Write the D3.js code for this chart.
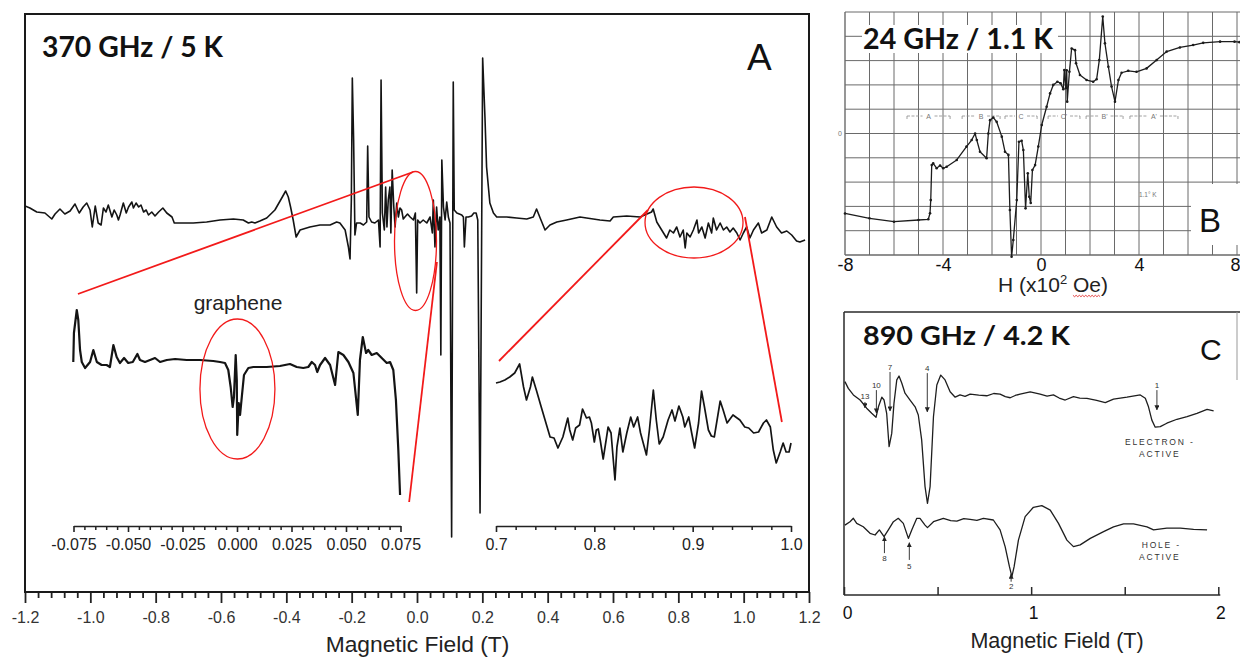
<!DOCTYPE html>
<html>
<head>
<meta charset="utf-8">
<script src="https://cdn.jsdelivr.net/npm/d3@7"></script>
<style>
  html, body { margin: 0; padding: 0; background: #fff; }
  svg { display: block; font-family: "Liberation Sans", Arial, sans-serif; }
</style>
</head>
<body>
<svg id="fig" width="1240" height="658"></svg>
<script>
// ---------------- data ----------------
// Panel A: 370 GHz / 5 K sweep, [field (T), signal (a.u.)]
const sweep370 = [
  [-1.200,0.04],[-1.185,0.02],[-1.164,-0.02],[-1.139,-0.03],[-1.118,-0.09],[-1.108,-0.04],[-1.093,0.01],
  [-1.078,-0.04],[-1.062,-0.01],[-1.047,0.06],[-1.034,-0.03],[-1.022,0.03],[-1.011,0.07],[-1.001,0.00],
  [-0.994,-0.17],[-0.985,0.04],[-0.976,-0.13],[-0.967,-0.15],[-0.960,0.02],[-0.952,-0.02],[-0.945,0.05],
  [-0.934,-0.07],[-0.927,0.00],[-0.919,-0.05],[-0.914,-0.10],[-0.909,-0.05],[-0.899,0.07],[-0.890,-0.03],
  [-0.883,0.03],[-0.873,0.08],[-0.868,0.02],[-0.860,0.07],[-0.852,0.03],[-0.845,0.05],[-0.837,-0.02],
  [-0.829,0.00],[-0.822,-0.05],[-0.812,-0.02],[-0.802,-0.06],[-0.791,-0.02],[-0.778,0.02],[-0.766,-0.03],
  [-0.750,-0.07],[-0.743,-0.13],[-0.725,-0.13],[-0.685,-0.13],[-0.644,-0.12],[-0.603,-0.10],[-0.562,-0.09],
  [-0.532,-0.10],[-0.516,-0.13],[-0.506,-0.12],[-0.496,-0.13],[-0.481,-0.11],[-0.460,-0.08],[-0.435,0.00],
  [-0.414,0.12],[-0.402,0.19],[-0.394,0.13],[-0.387,0.03],[-0.379,-0.10],[-0.370,-0.27],[-0.358,-0.20],
  [-0.328,-0.17],[-0.297,-0.15],[-0.266,-0.15],[-0.246,-0.12],[-0.236,-0.13],[-0.220,-0.20],[-0.210,-0.37],
  [-0.205,-0.49],[-0.201,0.10],[-0.198,1.32],[-0.194,0.70],[-0.190,-0.25],[-0.185,-0.13],[-0.174,-0.13],
  [-0.164,-0.15],[-0.154,-0.12],[-0.151,0.64],[-0.147,-0.07],[-0.139,-0.12],[-0.129,-0.13],[-0.118,-0.10],
  [-0.113,-0.37],[-0.110,1.30],[-0.106,-0.03],[-0.100,-0.20],[-0.096,0.23],[-0.092,-0.17],[-0.088,0.10],
  [-0.083,0.23],[-0.080,-0.23],[-0.076,0.40],[-0.071,0.03],[-0.067,-0.17],[-0.062,0.07],[-0.057,-0.07],
  [-0.052,0.02],[-0.047,0.00],[-0.042,-0.09],[-0.037,-0.07],[-0.029,-0.04],[-0.021,-0.07],[-0.011,-0.10],
  [-0.005,-0.03],[-0.001,-0.83],[0.002,-0.10],[0.009,-0.13],[0.019,-0.10],[0.030,-0.13],[0.040,-0.07],
  [0.047,-0.23],[0.050,0.10],[0.055,-0.37],[0.060,0.03],[0.065,-0.20],[0.070,-0.07],[0.073,-1.45],
  [0.076,0.50],[0.081,0.03],[0.086,-0.10],[0.091,0.08],[0.096,-0.07],[0.101,-0.13],[0.106,-3.27],
  [0.111,1.28],[0.114,0.00],[0.122,-0.03],[0.137,-0.05],[0.142,-0.07],[0.145,-0.37],[0.150,-0.07],
  [0.157,-0.07],[0.167,-0.06],[0.174,-0.03],[0.181,-0.03],[0.186,-0.10],[0.193,-3.03],[0.201,1.52],
  [0.208,0.93],[0.213,0.43],[0.223,0.07],[0.234,-0.03],[0.244,-0.07],[0.275,-0.07],[0.305,-0.08],
  [0.336,-0.09],[0.356,-0.07],[0.366,0.01],[0.377,-0.08],[0.392,-0.20],[0.407,-0.15],[0.428,-0.12],
  [0.458,-0.10],[0.499,-0.07],[0.519,-0.08],[0.560,-0.10],[0.591,-0.11],[0.601,-0.07],[0.642,-0.06],
  [0.683,-0.07],[0.718,-0.02],[0.723,0.01],[0.734,-0.12],[0.749,-0.20],[0.764,-0.28],[0.774,-0.20],
  [0.785,-0.23],[0.795,-0.17],[0.805,-0.27],[0.815,-0.20],[0.821,-0.38],[0.826,-0.23],[0.836,-0.27],
  [0.846,-0.20],[0.857,-0.10],[0.862,-0.23],[0.872,-0.17],[0.882,-0.28],[0.892,-0.13],[0.902,-0.23],
  [0.907,-0.08],[0.917,-0.20],[0.928,-0.13],[0.938,-0.20],[0.948,-0.17],[0.958,-0.22],[0.968,-0.18],
  [0.979,-0.23],[0.989,-0.30],[0.999,-0.23],[1.009,-0.17],[1.019,-0.28],[1.030,-0.20],[1.045,-0.13],
  [1.055,-0.23],[1.071,-0.20],[1.086,-0.07],[1.101,-0.17],[1.116,-0.23],[1.132,-0.21],[1.147,-0.25],
  [1.162,-0.31],[1.172,-0.32],[1.188,-0.30]
];

// Inset around zero field (graphene line)
const zoomLow = [
  [-0.0751,0.00],[-0.0748,0.29],[-0.0735,0.52],[-0.0728,0.42],[-0.0720,0.12],[-0.0712,0.00],[-0.0697,-0.06],
  [-0.0674,0.00],[-0.0659,0.12],[-0.0643,0.00],[-0.0621,-0.03],[-0.0598,-0.03],[-0.0583,-0.05],[-0.0567,0.17],
  [-0.0552,0.05],[-0.0537,-0.01],[-0.0518,0.04],[-0.0499,-0.01],[-0.0478,0.00],[-0.0457,0.08],[-0.0445,0.02],
  [-0.0422,0.00],[-0.0399,0.02],[-0.0376,0.04],[-0.0353,0.00],[-0.0322,0.02],[-0.0284,0.03],[-0.0231,0.02],
  [-0.0170,0.02],[-0.0109,0.01],[-0.0078,0.00],[-0.0055,-0.01],[-0.0040,-0.08],[-0.0029,-0.25],[-0.0020,-0.45],
  [-0.0014,-0.35],[-0.0006,0.07],[-0.0001,-0.18],[0.0001,-0.73],[0.0008,-0.41],[0.0014,-0.53],[0.0022,-0.35],
  [0.0032,-0.13],[0.0052,-0.06],[0.0075,-0.05],[0.0136,-0.05],[0.0197,-0.04],[0.0243,-0.02],[0.0274,-0.05],
  [0.0304,-0.06],[0.0327,-0.05],[0.0343,0.00],[0.0358,-0.03],[0.0368,-0.10],[0.0381,-0.03],[0.0404,0.04],
  [0.0427,-0.03],[0.0450,-0.23],[0.0465,0.10],[0.0488,0.07],[0.0511,0.00],[0.0534,-0.11],[0.0554,-0.53],
  [0.0564,0.02],[0.0577,0.25],[0.0592,0.09],[0.0602,0.12],[0.0618,0.07],[0.0641,0.09],[0.0664,0.04],
  [0.0687,-0.01],[0.0702,0.00],[0.0717,-0.08],[0.0729,-0.38],[0.0740,-0.88],[0.0748,-1.33]
];

// Inset 0.7 - 1.0 T
const zoomHigh = [
  [0.700,0.37],[0.704,0.38],[0.709,0.40],[0.714,0.43],[0.719,0.47],[0.724,0.56],[0.728,0.33],[0.731,0.20],
  [0.735,0.33],[0.737,0.43],[0.741,0.30],[0.746,0.13],[0.752,-0.07],[0.755,-0.17],[0.759,-0.18],[0.763,-0.28],
  [0.768,-0.17],[0.773,0.02],[0.775,-0.10],[0.778,-0.20],[0.781,-0.08],[0.785,-0.05],[0.788,0.11],[0.792,0.02],
  [0.795,0.03],[0.797,-0.03],[0.800,-0.22],[0.802,-0.10],[0.804,-0.09],[0.806,-0.20],[0.809,-0.39],[0.812,-0.20],
  [0.814,-0.07],[0.817,-0.13],[0.821,-0.60],[0.823,-0.27],[0.826,-0.08],[0.829,-0.32],[0.833,-0.13],[0.837,0.03],
  [0.840,-0.07],[0.844,0.03],[0.847,-0.13],[0.853,-0.35],[0.856,-0.10],[0.860,0.30],[0.863,0.00],[0.866,-0.24],
  [0.870,-0.17],[0.875,0.00],[0.879,0.10],[0.882,-0.01],[0.886,0.14],[0.890,0.03],[0.892,-0.07],[0.896,0.03],
  [0.899,-0.13],[0.902,-0.28],[0.906,-0.03],[0.909,0.29],[0.912,0.13],[0.916,-0.10],[0.919,-0.16],[0.922,-0.17],
  [0.928,0.19],[0.931,0.10],[0.935,-0.03],[0.941,0.05],[0.948,0.00],[0.953,-0.07],[0.957,-0.08],[0.962,-0.13],
  [0.967,-0.12],[0.972,-0.03],[0.975,0.00],[0.979,-0.07],[0.982,-0.30],[0.985,-0.43],[0.989,-0.32],[0.992,-0.23],
  [0.995,-0.32],[0.998,-0.32],[1.000,-0.23]
];

// Panel B: 24 GHz / 1.1 K, [H (x10^2 Oe), signal (grid units)]
const sweep24 = [
  [-8.0,-3.29],[-7.0,-3.49],[-6.0,-3.63],[-5.0,-3.56],[-4.6,-3.53],[-4.53,-3.28],[-4.50,-2.74],[-4.46,-1.30],
  [-4.40,-1.23],[-4.26,-1.43],[-4.12,-1.32],[-3.99,-1.43],[-3.85,-1.37],[-3.44,-1.09],[-3.04,-0.54],[-2.83,-0.27],
  [-2.69,0.00],[-2.62,-0.27],[-2.49,-0.75],[-2.22,-1.02],[-2.15,0.00],[-2.08,0.55],[-1.95,0.66],[-1.81,0.48],
  [-1.60,-0.13],[-1.47,-0.75],[-1.33,-0.88],[-1.27,-3.15],[-1.20,-5.07],[-1.13,-4.38],[-0.99,-2.74],[-0.90,-0.34],
  [-0.79,-0.30],[-0.72,-0.68],[-0.63,-3.08],[-0.54,-1.64],[-0.48,-2.60],[-0.42,-2.86],[-0.35,-1.50],[-0.24,-1.30],
  [-0.11,-0.54],[0.03,0.35],[0.23,1.10],[0.37,1.65],[0.50,2.00],[0.67,2.13],[0.80,2.07],[0.91,1.82],
  [0.95,2.61],[1.01,1.86],[1.05,2.60],[1.07,1.31],[1.16,2.54],[1.25,3.50],[1.39,3.43],[1.43,2.89],
  [1.59,2.41],[1.86,2.20],[2.13,2.13],[2.27,2.23],[2.38,3.02],[2.52,4.81],[2.61,3.71],[2.75,2.75],
  [2.88,1.93],[3.02,1.31],[3.16,2.20],[3.29,2.50],[3.56,2.58],[3.90,2.54],[4.31,2.68],[4.72,3.02],
  [5.13,3.37],[5.67,3.54],[6.21,3.64],[6.62,3.73],[7.31,3.78],[7.90,3.78],[8.10,3.76]
];
const regions24 = [[-5.47,-3.71,"A"],[-3.22,-1.67,"B"],[-1.47,-0.16,"C"],[0.29,1.59,"C'"],[1.84,3.35,"B'"],[3.63,5.59,"A'"]];

// Panel C: 890 GHz / 4.2 K, [field (T), signal (a.u.)]
const electronActive = [
  [0.005,7.54],[0.023,7.30],[0.050,7.07],[0.086,6.89],[0.112,6.68],[0.121,6.60],[0.148,6.42],[0.171,6.28],
  [0.184,6.65],[0.202,6.99],[0.214,6.89],[0.228,6.42],[0.241,5.24],[0.255,5.71],[0.267,6.77],[0.282,7.60],
  [0.294,7.74],[0.309,7.48],[0.326,7.13],[0.353,6.89],[0.380,6.65],[0.397,6.36],[0.415,5.48],[0.433,3.83],
  [0.446,3.24],[0.460,3.83],[0.478,6.30],[0.496,7.42],[0.517,7.77],[0.540,7.60],[0.567,7.18],[0.594,6.99],
  [0.620,7.07],[0.647,7.02],[0.674,7.10],[0.720,7.06],[0.763,7.04],[0.800,7.12],[0.834,7.10],[0.862,7.01],
  [0.888,6.97],[0.915,7.05],[0.941,7.10],[0.995,7.18],[1.048,7.10],[1.085,7.03],[1.119,7.07],[1.150,6.96],
  [1.182,6.89],[1.226,7.01],[1.260,6.96],[1.298,6.95],[1.350,6.88],[1.396,6.80],[1.440,6.92],[1.512,6.99],
  [1.583,7.07],[1.610,6.95],[1.627,6.65],[1.645,6.18],[1.663,5.93],[1.690,5.95],[1.725,6.07],[1.779,6.21],
  [1.833,6.30],[1.886,6.42],[1.940,6.56],[1.975,6.51]
];
const holeActive = [
  [0.005,2.47],[0.032,2.59],[0.050,2.71],[0.068,2.53],[0.103,2.41],[0.139,2.18],[0.166,2.12],[0.189,2.30],
  [0.214,2.06],[0.237,2.30],[0.264,2.59],[0.290,2.71],[0.317,2.53],[0.344,2.00],[0.362,2.30],[0.389,2.71],
  [0.406,2.71],[0.433,2.47],[0.446,2.38],[0.478,2.59],[0.531,2.71],[0.570,2.63],[0.603,2.61],[0.640,2.70],
  [0.674,2.67],[0.710,2.64],[0.745,2.71],[0.798,2.65],[0.834,2.30],[0.861,1.71],[0.884,1.00],[0.897,0.65],
  [0.909,1.00],[0.932,1.94],[0.968,2.77],[1.012,3.10],[1.057,3.16],[1.102,3.00],[1.146,2.53],[1.191,1.94],
  [1.226,1.71],[1.262,1.77],[1.316,2.00],[1.387,2.24],[1.440,2.41],[1.494,2.51],[1.547,2.51],[1.619,2.41],
  [1.654,2.30],[1.725,2.36],[1.797,2.36],[1.868,2.32],[1.940,2.30]
];
// resonance markers: [field, label, label y, arrow from, arrow to]
const electronMarks = [[0.112,"13",7.01,6.82,6.61],[0.173,"10",7.42,7.24,6.43],[0.246,"7",8.05,7.88,6.50],
                       [0.445,"4",8.01,7.84,6.47],[1.672,"1",7.42,7.24,6.54]];
const holeMarks = [[0.216,"8",1.30,1.48,2.06],[0.349,"5",1.02,1.24,1.85],[0.893,"2",0.32,0.47,0.74]];

// tick labels
const ticksA = [-1.2,-1.0,-0.8,-0.6,-0.4,-0.2,0.0,0.2,0.4,0.6,0.8,1.0,1.2];
const tickLabelsA = ["-1.2","-1.0","-0.8","-0.6","-0.4","-0.2","0.0","0.2","0.4","0.6","0.8","1.0","1.2"];
const ticksLow = [-0.075,-0.05,-0.025,0,0.025,0.05,0.075];
const tickLabelsLow = ["-0.075","-0.050","-0.025","0.000","0.025","0.050","0.075"];
const ticksHigh = [0.7,0.8,0.9,1.0];
const tickLabelsHigh = ["0.7","0.8","0.9","1.0"];
const ticksB = [-8,-4,0,4,8];
const tickLabelsB = ["-8","-4","0","4","8"];
const ticksC = [0,1,2];
const tickLabelsC = ["0","1","2"];

// ---------------- drawing ----------------
const svg = d3.select("#fig");
const INK = "#141414";
const RED = "#f21a1a";

const fmtFrom = (vals, labels) => v => labels[vals.findIndex(t => Math.abs(t - v) < 1e-9)];

function trace(g, data, xs, ys, width, color) {
  return g.append("path").datum(data)
    .attr("d", d3.line().x(d => xs(d[0])).y(d => ys(d[1])))
    .attr("fill", "none").attr("stroke", color || INK)
    .attr("stroke-width", width).attr("stroke-linejoin", "round");
}
function styleAxis(g, width, color, fontSize) {
  g.selectAll(".tick line").attr("stroke", color).attr("stroke-width", width);
  g.selectAll(".domain").attr("stroke", color).attr("stroke-width", width);
  g.selectAll("text").attr("fill", color).attr("font-size", fontSize)
    .attr("font-family", '"Liberation Sans", Arial, sans-serif');
}

// ===== Panel A =====
const A = { left: 25, right: 809, top: 14, bottom: 592 };
const xA = d3.scaleLinear().domain([-1.2, 1.2]).range([A.left, A.right]);
const yA = d3.scaleLinear().domain([-3.82, 1.96]).range([A.bottom, A.top]);
const xLow = d3.scaleLinear().domain([-0.075, 0.075]).range([73.5, 400.5]);
const yLow = d3.scaleLinear().domain([0, 1]).range([362, 262]);
const xHigh = d3.scaleLinear().domain([0.7, 1.0]).range([496, 791]);
const yHigh = d3.scaleLinear().domain([0, 1]).range([420, 320]);

svg.append("clipPath").attr("id", "clipA").append("rect")
  .attr("x", A.left).attr("y", A.top).attr("width", A.right - A.left).attr("height", A.bottom - A.top);
const pA = svg.append("g");

// minor and major ticks of main field axis
const minorA = d3.range(-30, 31).filter(i => i % 5 !== 0).map(i => i * 0.04);
const gMinA = pA.append("g").attr("transform", `translate(0,${A.bottom})`)
  .call(d3.axisBottom(xA).tickValues(minorA).tickSize(6).tickFormat(""));
gMinA.select(".domain").remove();
styleAxis(gMinA, 1.8, "#222", 16);
const gAxA = pA.append("g").attr("transform", `translate(0,${A.bottom})`)
  .call(d3.axisBottom(xA).tickValues(ticksA).tickSize(11).tickPadding(9).tickFormat(fmtFrom(ticksA, tickLabelsA)));
gAxA.select(".domain").remove();
styleAxis(gAxA, 1.8, "#222", 16);
gAxA.selectAll("text").attr("fill", "#333");

pA.append("rect").attr("x", A.left).attr("y", A.top)
  .attr("width", A.right - A.left).attr("height", A.bottom - A.top)
  .attr("fill", "none").attr("stroke", "#1a1a1a").attr("stroke-width", 2);

pA.append("text").attr("x", (A.left + A.right) / 2 + 0.5).attr("y", 652)
  .attr("text-anchor", "middle").attr("font-size", 22.8).attr("fill", "#222")
  .text("Magnetic Field (T)");

// inset axes
const minorLow = d3.range(-15, 16).filter(i => i % 5 !== 0).map(i => i * 0.005);
const gMinLow = pA.append("g").attr("transform", "translate(0,526)")
  .call(d3.axisBottom(xLow).tickValues(minorLow).tickSize(4).tickFormat(""));
gMinLow.select(".domain").remove();
styleAxis(gMinLow, 1.5, "#222", 16);
const gLow = pA.append("g").attr("transform", "translate(0,526)")
  .call(d3.axisBottom(xLow).tickValues(ticksLow).tickSizeInner(6).tickSizeOuter(0).tickPadding(7)
        .tickFormat(fmtFrom(ticksLow, tickLabelsLow)));
styleAxis(gLow, 1.6, "#222", 16);

const minorHigh = d3.range(0, 16).filter(i => i % 5 !== 0).map(i => 0.7 + i * 0.02);
const gMinHigh = pA.append("g").attr("transform", "translate(0,526)")
  .call(d3.axisBottom(xHigh).tickValues(minorHigh).tickSize(4).tickFormat(""));
gMinHigh.select(".domain").remove();
styleAxis(gMinHigh, 1.5, "#222", 16);
const gHigh = pA.append("g").attr("transform", "translate(0,526)")
  .call(d3.axisBottom(xHigh).tickValues(ticksHigh).tickSizeInner(6).tickSizeOuter(0).tickPadding(7)
        .tickFormat(fmtFrom(ticksHigh, tickLabelsHigh)));
styleAxis(gHigh, 1.6, "#222", 16);

// traces
trace(pA.append("g").attr("clip-path", "url(#clipA)"), sweep370, xA, yA, 1.6);
trace(pA, zoomLow, xLow, yLow, 2.2);
trace(pA, zoomHigh, xHigh, yHigh, 1.7);

// red call-outs (main panel units: field, signal)
const links = [[-1.038, -0.84, -0.012, 0.38], [0.061, -0.52, -0.024, -2.92],
               [0.707, 0.00, 0.251, -1.51], [1.004, -0.07, 1.117, -2.12]];
const rings = [[-0.0046, -0.31, 0.0643, 0.695], [0.848, -0.125, 0.150, 0.355]];
pA.selectAll("line.link").data(links).join("line").attr("class", "link")
  .attr("x1", d => xA(d[0])).attr("y1", d => yA(d[1]))
  .attr("x2", d => xA(d[2])).attr("y2", d => yA(d[3]))
  .attr("stroke", RED).attr("stroke-width", 1.8);
pA.selectAll("ellipse.ring").data(rings).join("ellipse").attr("class", "ring")
  .attr("cx", d => xA(d[0])).attr("cy", d => yA(d[1]))
  .attr("rx", d => xA(d[0] + d[2]) - xA(d[0])).attr("ry", d => yA(d[1]) - yA(d[1] + d[3]))
  .attr("fill", "none").attr("stroke", RED).attr("stroke-width", 1.3);
// graphene ring in inset units
const grapheneRing = [0.0002, -0.27, 0.0172, 0.70];
pA.append("ellipse")
  .attr("cx", xLow(grapheneRing[0])).attr("cy", yLow(grapheneRing[1]))
  .attr("rx", xLow(grapheneRing[0] + grapheneRing[2]) - xLow(grapheneRing[0]))
  .attr("ry", yLow(grapheneRing[1]) - yLow(grapheneRing[1] + grapheneRing[3]))
  .attr("fill", "none").attr("stroke", RED).attr("stroke-width", 1.3);
pA.append("text").attr("x", xLow(0) + 1).attr("y", 310).attr("text-anchor", "middle")
  .attr("font-size", 21).attr("fill", "#222").text("graphene");

pA.append("text").attr("x", 42).attr("y", 57).attr("font-family", "Lato, sans-serif")
  .attr("font-weight", 700).attr("font-size", 28).attr("fill", "#111")
  .attr("textLength", 181).attr("lengthAdjust", "spacingAndGlyphs").text("370 GHz / 5 K");
pA.append("text").attr("x", 747).attr("y", 70).attr("font-size", 37).attr("fill", "#111").text("A");

// ===== Panel B =====
const xB = d3.scaleLinear().domain([-8, 8]).range([845, 1237]);
const yB = d3.scaleLinear().domain([-5, 5]).range([255, 12]);
const pB = svg.append("g");
const GRID = "#6a6a6a";
pB.selectAll("line.v").data(d3.range(-8, 9)).join("line").attr("class", "v")
  .attr("x1", d => xB(d)).attr("x2", d => xB(d)).attr("y1", yB(5)).attr("y2", yB(-5))
  .attr("stroke", GRID).attr("stroke-width", d => d === -8 ? 1.4 : 1);
pB.selectAll("line.h").data(d3.range(-5, 6)).join("line").attr("class", "h")
  .attr("x1", xB(-8)).attr("x2", 1240).attr("y1", d => yB(d)).attr("y2", d => yB(d))
  .attr("stroke", GRID).attr("stroke-width", d => d === -5 ? 1.4 : 1);

// field-region brackets
const yBr = yB(0.72);
regions24.forEach(([a, b, lab]) => {
  const x0 = xB(a), x1 = xB(b), xm = (x0 + x1) / 2;
  const g = pB.append("g").attr("stroke", "#8a8a8a").attr("stroke-width", 0.8);
  g.append("line").attr("x1", x0).attr("x2", xm - 6).attr("y1", yBr).attr("y2", yBr).attr("stroke-dasharray", "3,1.5");
  g.append("line").attr("x1", xm + 6).attr("x2", x1).attr("y1", yBr).attr("y2", yBr).attr("stroke-dasharray", "3,1.5");
  g.append("line").attr("x1", x0).attr("x2", x0).attr("y1", yBr).attr("y2", yBr + 3);
  g.append("line").attr("x1", x1).attr("x2", x1).attr("y1", yBr).attr("y2", yBr + 3);
  pB.append("text").attr("x", xm).attr("y", yBr + 2.5).attr("text-anchor", "middle")
    .attr("font-size", 7).attr("fill", "#777").text(lab);
});
pB.append("text").attr("x", 842).attr("y", yB(0) + 2.5).attr("text-anchor", "end")
  .attr("font-size", 7).attr("fill", "#777").text("0");
pB.append("text").attr("x", xB(4.36)).attr("y", yB(-2.53) + 2).attr("text-anchor", "middle")
  .attr("font-size", 6.5).attr("fill", "#777").text("1.1° K");

trace(pB, sweep24, xB, yB, 1.3, "#1c1c1c");
pB.selectAll("circle").data(sweep24).join("circle")
  .attr("cx", d => xB(d[0])).attr("cy", d => yB(d[1])).attr("r", 1.3).attr("fill", "#1c1c1c");

const gAxB = pB.append("g").attr("transform", `translate(0,${yB(-5)})`)
  .call(d3.axisBottom(xB).tickValues(ticksB).tickSize(0).tickPadding(3).tickFormat(fmtFrom(ticksB, tickLabelsB)));
gAxB.select(".domain").remove();
styleAxis(gAxB, 1, "#111", 18);
// the last label sits at the page edge: keep it inside
gAxB.selectAll(".tick text").filter(d => d === 8).attr("text-anchor", "end").attr("dx", 3);

const hTitle = pB.append("text").attr("x", 1053).attr("y", 292).attr("text-anchor", "middle")
  .attr("font-size", 21).attr("fill", "#222");
hTitle.append("tspan").text("H (x10");
hTitle.append("tspan").attr("font-size", 13).attr("dy", -8).text("2");
hTitle.append("tspan").attr("dy", 8).text(" Oe)");
// wavy spell-check underline under "Oe"
{
  const node = hTitle.node();
  const full = node.textContent;
  const i0 = full.indexOf("Oe");
  const xs = node.getStartPositionOfChar(i0).x;
  const xe = node.getEndPositionOfChar(i0 + 1).x;
  const pts = [];
  for (let x = xs, k = 0; x <= xe; x += 1.6, k++) pts.push([x, 295.5 + (k % 2 ? 1.2 : -0.2)]);
  pB.append("path").attr("d", d3.line()(pts)).attr("fill", "none").attr("stroke", "#e03030").attr("stroke-width", 0.9);
}

// label boxes
pB.append("rect").attr("x", 862).attr("y", 25).attr("width", 196).attr("height", 28).attr("fill", "#fff");
pB.append("text").attr("x", 863).attr("y", 48.5).attr("font-family", "Lato, sans-serif")
  .attr("font-weight", 700).attr("font-size", 28).attr("fill", "#111")
  .attr("textLength", 190).attr("lengthAdjust", "spacingAndGlyphs").text("24 GHz / 1.1 K");
pB.append("rect").attr("x", 1191).attr("y", 184).attr("width", 49).attr("height", 61).attr("fill", "#fff");
pB.append("text").attr("x", 1199).attr("y", 232).attr("font-size", 33).attr("fill", "#111").text("B");

// ===== Panel C =====
const xC = d3.scaleLinear().domain([0, 2]).range([844, 1218.3]);
const yC = d3.scaleLinear().domain([0, 10]).range([595, 312]);
const pC = svg.append("g");
const FR = "#2a2a2a";
pC.append("line").attr("x1", 844).attr("x2", 1240).attr("y1", 312).attr("y2", 312).attr("stroke", FR).attr("stroke-width", 1.3);
pC.append("line").attr("x1", 844).attr("x2", 844).attr("y1", 312).attr("y2", 595).attr("stroke", FR).attr("stroke-width", 1.5);
pC.append("line").attr("x1", 1237).attr("x2", 1237).attr("y1", 312).attr("y2", 380).attr("stroke", "#999").attr("stroke-width", 1);

const gTickC = pC.append("g").attr("transform", "translate(0,595)")
  .call(d3.axisBottom(xC).tickValues([0, 0.5, 1, 1.5, 2]).tickSizeInner(-8).tickSizeOuter(0).tickFormat(""));
gTickC.select(".domain").attr("d", `M${xC(0)},0H${xC(2) + 2}`);
styleAxis(gTickC, 1.5, FR, 17);
const gAxC = pC.append("g").attr("transform", "translate(0,595)")
  .call(d3.axisBottom(xC).tickValues(ticksC).tickSize(0).tickPadding(11.5).tickFormat(fmtFrom(ticksC, tickLabelsC)));
gAxC.select(".domain").remove();
styleAxis(gAxC, 1, "#111", 17.5);
gAxC.selectAll(".tick text").attr("dx", (d, i) => i === 0 ? 3 : 2);

pC.append("text").attr("x", 1057).attr("y", 648).attr("text-anchor", "middle")
  .attr("font-size", 21.5).attr("fill", "#222").text("Magnetic Field (T)");

trace(pC, electronActive, xC, yC, 1.3, "#1e1e1e");
trace(pC, holeActive, xC, yC, 1.3, "#1e1e1e");

const defs = svg.append("defs");
defs.append("marker").attr("id", "tip").attr("viewBox", "0 0 6 6").attr("refX", 5.5).attr("refY", 3)
  .attr("markerWidth", 5).attr("markerHeight", 5).attr("markerUnits", "userSpaceOnUse").attr("orient", "auto")
  .append("path").attr("d", "M0,0L6,3L0,6z").attr("fill", "#222");
[...electronMarks, ...holeMarks].forEach(([f, lab, ly, a0, a1]) => {
  pC.append("line").attr("x1", xC(f)).attr("x2", xC(f)).attr("y1", yC(a0)).attr("y2", yC(a1))
    .attr("stroke", "#222").attr("stroke-width", 0.9).attr("marker-end", "url(#tip)");
  pC.append("text").attr("x", xC(f)).attr("y", yC(ly)).attr("dy", "0.35em").attr("text-anchor", "middle")
    .attr("font-size", 8).attr("fill", "#333").text(lab);
});
const tags = [["ELECTRON -", 1.682, 5.41], ["ACTIVE", 1.682, 4.98], ["HOLE -", 1.69, 1.77], ["ACTIVE", 1.682, 1.34]];
pC.selectAll("text.tag").data(tags).join("text").attr("class", "tag")
  .attr("x", d => xC(d[1]) + 1).attr("y", d => yC(d[2])).attr("dy", "0.35em").attr("text-anchor", "middle")
  .attr("font-size", 8.5).attr("letter-spacing", 1.8).attr("fill", "#333").text(d => d[0]);

pC.append("text").attr("x", 863).attr("y", 345).attr("font-family", "Lato, sans-serif")
  .attr("font-weight", 700).attr("font-size", 26).attr("fill", "#111")
  .attr("textLength", 207).attr("lengthAdjust", "spacingAndGlyphs").text("890 GHz / 4.2 K");
pC.append("text").attr("x", 1200).attr("y", 360).attr("font-size", 30).attr("fill", "#111").text("C");
</script>
</body>
</html>
